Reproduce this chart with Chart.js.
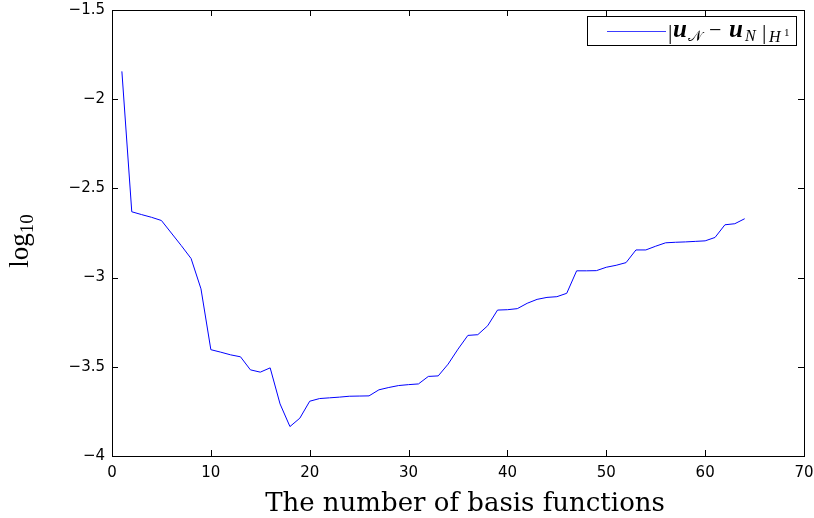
<!DOCTYPE html>
<html>
<head>
<meta charset="utf-8">
<script src="https://cdn.jsdelivr.net/npm/chart.js@4.4.1/dist/chart.umd.min.js"></script>
<style>
  html, body { margin: 0; padding: 0; background: #fff; }
  #wrap { width: 814px; height: 518px; }
</style>
</head>
<body>
<div id="wrap"><canvas id="chart" width="814" height="518"></canvas></div>
<script>
const basisCount = [1,2,3,4,5,6,7,8,9,10,11,12,13,14,15,16,17,18,19,20,21,22,23,24,25,26,27,28,29,30,31,32,
    33,34,35,36,37,38,39,40,41,42,43,44,45,46,47,48,49,50,51,52,53,54,55,56,57,58,59,60,61,62,63,64];
const errorLog = [-1.844,-2.631,-2.647,-2.662,-2.680,-2.750,-2.820,-2.893,-3.063,-3.404,-3.418,-3.433,-3.444,
    -3.517,-3.530,-3.506,-3.708,-3.835,-3.788,-3.693,-3.678,-3.674,-3.670,-3.665,-3.664,-3.663,-3.629,-3.616,
    -3.605,-3.600,-3.596,-3.554,-3.551,-3.485,-3.401,-3.324,-3.320,-3.270,-3.182,-3.180,-3.174,-3.144,-3.122,
    -3.111,-3.107,-3.088,-2.962,-2.962,-2.961,-2.942,-2.931,-2.916,-2.845,-2.845,-2.824,-2.805,-2.802,-2.800,
    -2.797,-2.794,-2.775,-2.704,-2.698,-2.670];
const xTicks = [0,10,20,30,40,50,60,70];
const yTicks = [-4,-3.5,-3,-2.5,-2,-1.5];

const points = basisCount.map((n, i) => ({x: n, y: errorLog[i]}));
const minus = v => String(v).replace('-', '\u2212');

// box, inward ticks, axis titles and legend, MATLAB style
const matlabFrame = {
    id: 'matlabFrame',
    afterDraw(chart){
        const ctx = chart.ctx;
        const a = chart.chartArea;
        const xs = chart.scales.x, ys = chart.scales.y;
        ctx.save();
        ctx.strokeStyle = '#000';
        ctx.lineWidth = 1;
        ctx.strokeRect(Math.round(a.left) + 0.5, Math.round(a.top) + 0.5,
            Math.round(a.right - a.left), Math.round(a.bottom - a.top));
        ctx.beginPath();
        xTicks.forEach(t => {
            const px = Math.round(xs.getPixelForValue(t)) + 0.5;
            ctx.moveTo(px, a.bottom); ctx.lineTo(px, a.bottom - 6);
            ctx.moveTo(px, a.top); ctx.lineTo(px, a.top + 6);
        });
        yTicks.forEach(t => {
            const py = Math.round(ys.getPixelForValue(t)) + 0.5;
            ctx.moveTo(a.left, py); ctx.lineTo(a.left + 6, py);
            ctx.moveTo(a.right, py); ctx.lineTo(a.right - 6, py);
        });
        ctx.stroke();

        // x title
        ctx.fillStyle = '#000';
        ctx.font = '26px "DejaVu Serif"';
        ctx.textAlign = 'center';
        ctx.textBaseline = 'alphabetic';
        ctx.fillText('The number of basis functions', 465, 511);

        // y title log10
        ctx.save();
        ctx.translate(28, 241);
        ctx.rotate(-Math.PI / 2);
        ctx.font = '27px "Liberation Serif"';
        const w1 = ctx.measureText('log').width;
        ctx.font = '19px "Liberation Serif"';
        const w2 = ctx.measureText('10').width;
        const x0 = -(w1 + w2) / 2;
        ctx.textAlign = 'left';
        ctx.font = '27px "Liberation Serif"';
        ctx.fillText('log', x0, 0);
        ctx.font = '19px "Liberation Serif"';
        ctx.fillText('10', x0 + w1, 5);
        ctx.restore();

        // legend
        ctx.fillStyle = '#fff';
        ctx.fillRect(587, 16, 209, 29);
        ctx.strokeStyle = '#000';
        ctx.strokeRect(587.5, 16.5, 209, 29);
        ctx.beginPath();
        ctx.strokeStyle = 'rgb(60,60,255)';
        ctx.moveTo(607, 31.5); ctx.lineTo(666, 31.5);
        ctx.stroke();
        ctx.fillStyle = '#000';
        ctx.textAlign = 'left';
        const put = (txt, font, x, y) => {
            ctx.font = font;
            ctx.fillText(txt, x, y);
        };
        put('|', '22px "Liberation Serif"', 668, 39);
        put('u', 'bold italic 25px "Liberation Serif"', 673, 37);
        put('\uD835\uDCA9', '15px "DejaVu Sans"', 688, 41);
        put('\u2212', '22px "Liberation Serif"', 709, 37);
        put('u', 'bold italic 25px "Liberation Serif"', 729, 37);
        put('N', 'italic 16px "Liberation Serif"', 745, 41);
        put('|', '22px "Liberation Serif"', 762, 39);
        put('H', 'italic 16px "Liberation Serif"', 769, 42);
        put('1', '11px "Liberation Serif"', 784, 36);
        ctx.restore();
    }
};

new Chart(document.querySelector('#chart'), {
    type: 'line',
    data: {
        datasets: [{
            data: points,
            borderColor: '#0000ff',
            borderWidth: 1,
            pointRadius: 0,
            tension: 0,
            fill: false
        }]
    },
    options: {
        responsive: false,
        animation: false,
        layout: {padding: {top: 10, right: 10, left: 0, bottom: 0}},
        plugins: {legend: {display: false}, tooltip: {enabled: false}},
        scales: {
            x: {
                type: 'linear',
                min: 0, max: 70,
                afterBuildTicks: s => { s.ticks = xTicks.map(v => ({value: v})); },
                afterFit: s => { s.height = 62; s.paddingLeft = 0; s.paddingRight = 0; },
                grid: {display: false, drawTicks: false},
                border: {display: false},
                ticks: {
                    color: '#000',
                    font: {family: '"DejaVu Sans"', size: 15},
                    padding: 8,
                    maxRotation: 0,
                    callback: v => minus(v)
                }
            },
            y: {
                min: -4, max: -1.5,
                afterBuildTicks: s => { s.ticks = yTicks.map(v => ({value: v})); },
                afterFit: s => { s.width = 112; s.paddingTop = 0; s.paddingBottom = 0; },
                grid: {display: false, drawTicks: false},
                border: {display: false},
                ticks: {
                    color: '#000',
                    font: {family: '"DejaVu Sans"', size: 15},
                    padding: 7,
                    callback: v => minus(v)
                }
            }
        }
    },
    plugins: [matlabFrame]
});
</script>
</body>
</html>
